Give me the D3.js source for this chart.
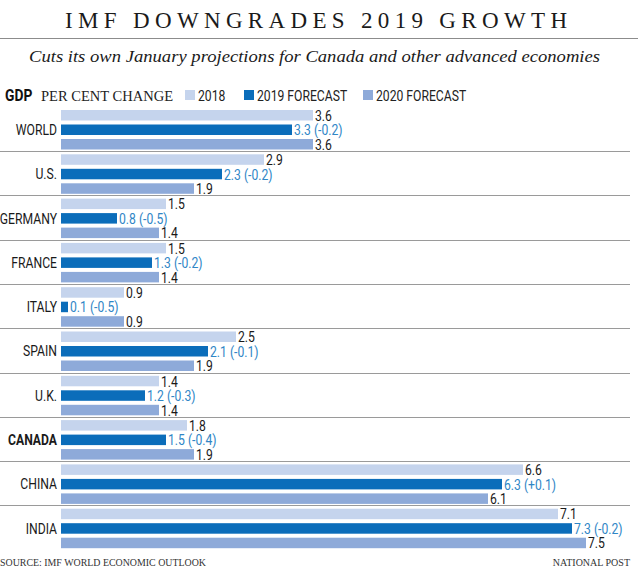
<!DOCTYPE html>
<html>
<head>
<meta charset="utf-8">
<script src="https://cdn.jsdelivr.net/npm/d3@7"></script>
<style>
  body { margin: 0; background: #fff; }
  .narrow { font-family: "Roboto", "Liberation Sans", sans-serif; }
  .serif { font-family: "Liberation Serif", "DejaVu Serif", serif; }
</style>
</head>
<body>
<svg id="chart" width="640" height="581"></svg>
<script>
var countries = ["WORLD", "U.S.", "GERMANY", "FRANCE", "ITALY", "SPAIN", "U.K.", "CANADA", "CHINA", "INDIA"]
var v2018 = [3.6, 2.9, 1.5, 1.5, 0.9, 2.5, 1.4, 1.8, 6.6, 7.1]
var v2019 = [3.3, 2.3, 0.8, 1.3, 0.1, 2.1, 1.2, 1.5, 6.3, 7.3]
var rev2019 = ["-0.2", "-0.2", "-0.5", "-0.2", "-0.5", "-0.1", "-0.3", "-0.4", "+0.1", "-0.2"]
var v2020 = [3.6, 1.9, 1.4, 1.4, 0.9, 1.9, 1.4, 1.9, 6.1, 7.5]
var seriesNames = ["2018", "2019 FORECAST", "2020 FORECAST"]
var seriesColors = ["#c5d4ed", "#0b6dba", "#8eaad9"]

var squeeze = 0.84  // fake a condensed face

var svg = d3.select("#chart")

// title + subtitle
svg.append("text")
   .attr("class", "serif")
   .attr("x", 65).attr("y", 28)
   .attr("textLength", 502)
   .attr("font-size", 23)
   .attr("fill", "#1a1a1a")
   .text("IMF DOWNGRADES 2019 GROWTH")

svg.append("line")
   .attr("x1", 0).attr("x2", 638).attr("y1", 38.5).attr("y2", 38.5)
   .attr("stroke", "#8c8c8c").attr("stroke-width", 1)

svg.append("text")
   .attr("class", "serif")
   .attr("x", 29).attr("y", 62)
   .attr("textLength", 571)
   .attr("lengthAdjust", "spacingAndGlyphs")
   .attr("font-size", 17.5)
   .attr("font-style", "italic")
   .attr("fill", "#1a1a1a")
   .text("Cuts its own January projections for Canada and other advanced economies")

// legend row
svg.append("text")
   .attr("class", "narrow")
   .attr("transform", "translate(5,101) scale(" + squeeze + ",1)")
   .attr("font-size", 16.5).attr("font-weight", "bold")
   .attr("fill", "#111")
   .text("GDP")

svg.append("text")
   .attr("class", "serif")
   .attr("x", 41).attr("y", 101)
   .attr("textLength", 132)
   .attr("lengthAdjust", "spacingAndGlyphs")
   .attr("font-size", 14.5)
   .attr("fill", "#222")
   .text("PER CENT CHANGE")

var legendX = [185, 244, 363]
var legend = svg.selectAll("g.legend")
   .data(seriesNames)
   .enter().append("g")
   .attr("class", "legend")
   .attr("transform", function(d, i) { return "translate(" + legendX[i] + ",90)" })

legend.append("rect")
   .attr("width", 10).attr("height", 10)
   .attr("fill", function(d, i) { return seriesColors[i] })

legend.append("text")
   .attr("class", "narrow")
   .attr("transform", "translate(13,10.5) scale(" + squeeze + ",1)")
   .attr("font-size", 14.5)
   .attr("fill", "#222")
   .text(function(d) { return d })

// scales
var x = d3.scaleLinear().domain([0, 7.5]).range([61, 586])
var y0 = d3.scaleBand().domain(countries).range([106.7, 106.7 + 44.3 * countries.length])
var y1 = d3.scaleBand().domain(seriesNames).range([3.3, 42.8]).paddingInner(0.276)

var rows = countries.map(function(c, i) {
  return { name: c, vals: [v2018[i], v2019[i], v2020[i]], rev: rev2019[i], i: i }
})

// separators
svg.selectAll("line.sep")
   .data(countries.slice(1))
   .enter().append("line")
   .attr("class", "sep")
   .attr("x1", 0).attr("x2", 630)
   .attr("y1", function(d) { return Math.round(y0(d)) + 0.5 })
   .attr("y2", function(d) { return Math.round(y0(d)) + 0.5 })
   .attr("stroke", "#9a9a9a").attr("stroke-width", 1)

var group = svg.selectAll("g.country")
   .data(rows)
   .enter().append("g")
   .attr("class", "country")
   .attr("transform", function(d) { return "translate(0," + y0(d.name) + ")" })

group.append("text")
   .attr("class", "narrow")
   .attr("transform", "translate(57," + (y1("2019 FORECAST") + y1.bandwidth() / 2) + ") scale(" + squeeze + ",1)")
   .attr("dy", "0.36em")
   .attr("text-anchor", "end")
   .attr("font-size", 14.5)
   .attr("font-weight", function(d) { return d.name == "CANADA" ? "bold" : "normal" })
   .attr("fill", "#1a1a1a")
   .text(function(d) { return d.name })

group.selectAll("rect")
   .data(function(d) { return d.vals })
   .enter().append("rect")
   .attr("x", x(0))
   .attr("y", function(d, j) { return y1(seriesNames[j]) })
   .attr("width", function(d) { return x(d) - x(0) })
   .attr("height", y1.bandwidth())
   .attr("fill", function(d, j) { return seriesColors[j] })

group.selectAll("text.val")
   .data(function(d) { return d.vals.map(function(v, j) { return { v: v, j: j, rev: d.rev } }) })
   .enter().append("text")
   .attr("class", "val narrow")
   .attr("transform", function(d) {
      return "translate(" + (x(d.v) + 2) + "," + (y1(seriesNames[d.j]) + y1.bandwidth() / 2) + ") scale(" + squeeze + ",1)"
   })
   .attr("dy", "0.38em")
   .attr("font-size", 14.5)
   .attr("fill", function(d) { return d.j == 1 ? "#2f86c6" : "#1a1a1a" })
   .text(function(d) { return d.j == 1 ? d.v.toFixed(1) + " (" + d.rev + ")" : d.v.toFixed(1) })

// footer
svg.append("text")
   .attr("class", "serif")
   .attr("x", 0).attr("y", 566)
   .attr("textLength", 206)
   .attr("lengthAdjust", "spacingAndGlyphs")
   .attr("font-size", 10)
   .attr("fill", "#333")
   .text("SOURCE: IMF WORLD ECONOMIC OUTLOOK")

svg.append("text")
   .attr("class", "serif")
   .attr("x", 630).attr("y", 566)
   .attr("text-anchor", "end")
   .attr("font-size", 10)
   .attr("fill", "#333")
   .text("NATIONAL POST")
</script>
</body>
</html>
